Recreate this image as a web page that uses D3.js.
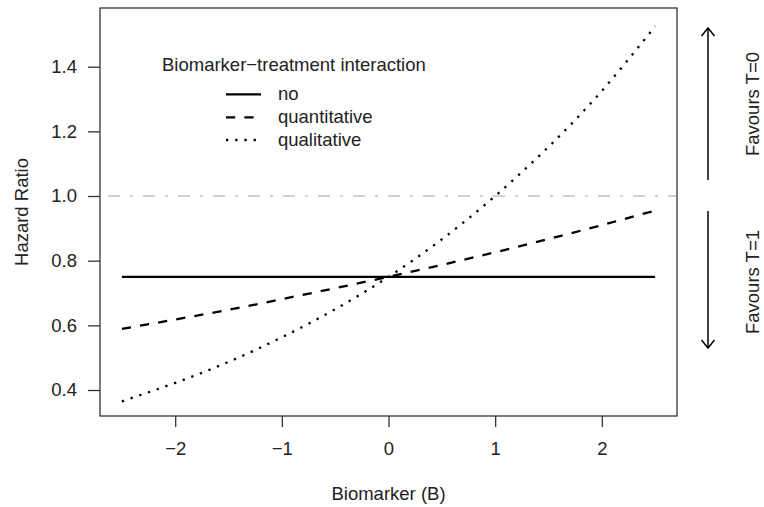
<!DOCTYPE html>
<html>
<head>
<meta charset="utf-8">
<script src="https://cdn.jsdelivr.net/npm/d3@7"></script>
<style>
  body { margin: 0; background: #fff; }
  svg text { font-family: "Liberation Sans", Arial, sans-serif; fill: #222; }
</style>
</head>
<body>
<svg id="chart" width="764" height="507"></svg>
<script>
// biomarker values and hazard ratios
const biomarker = [-2.5, -2, -1.5, -1, -0.5, 0, 0.5, 1, 1.5, 2, 2.5];
const hrNo = [0.75, 0.75, 0.75, 0.75, 0.75, 0.75, 0.75, 0.75, 0.75, 0.75, 0.75];
const hrQuantitative = [0.589, 0.618, 0.648, 0.681, 0.715, 0.75, 0.787, 0.826, 0.867, 0.910, 0.955];
const hrQualitative = [0.365, 0.422, 0.487, 0.563, 0.65, 0.75, 0.866, 1.0, 1.152, 1.325, 1.525];

const xTicks = [-2, -1, 0, 1, 2];
const yTicks = [0.4, 0.6, 0.8, 1.0, 1.2, 1.4];
const legendLabels = ["no", "quantitative", "qualitative"];
const refLine = 1.0;

const svg = d3.select("#chart");
const fs = 18.5;

// plot region
const pLeft = 100, pRight = 677, pTop = 8, pBottom = 416;

const x = d3.scaleLinear().domain([-2.705, 2.705]).range([pLeft, pRight]);
const y = d3.scaleLinear().domain([0.3196, 1.5815]).range([pBottom, pTop]);

// reference line at HR = 1
svg.append("line")
  .attr("x1", pLeft).attr("x2", pRight)
  .attr("y1", y(refLine)).attr("y2", y(refLine))
  .attr("stroke", "#d0d0d0")
  .attr("stroke-width", 2)
  .attr("stroke-dasharray", "12,10,3,10")
  .attr("stroke-dashoffset", 27);

// the three curves
const styles = [
  { vals: hrNo, dash: null },
  { vals: hrQuantitative, dash: "9.2,9.2" },
  { vals: hrQualitative, dash: "2.3,6.9" }
];

const line = d3.line()
  .x(d => x(d[0]))
  .y(d => y(d[1]))
  .curve(d3.curveNatural);

styles.forEach(s => {
  svg.append("path")
    .datum(biomarker.map((b, i) => [b, s.vals[i]]))
    .attr("d", line)
    .attr("fill", "none")
    .attr("stroke", "#000")
    .attr("stroke-width", 2.3)
    .attr("stroke-dasharray", s.dash);
});

// box
svg.append("rect")
  .attr("x", pLeft).attr("y", pTop)
  .attr("width", pRight - pLeft).attr("height", pBottom - pTop)
  .attr("fill", "none")
  .attr("stroke", "#333")
  .attr("stroke-width", 1.3);

// axes
const xAxis = d3.axisBottom(x)
  .tickValues(xTicks)
  .tickSize(11)
  .tickPadding(15)
  .tickFormat(d => d < 0 ? "\u2212" + Math.abs(d) : d);

const gx = svg.append("g")
  .attr("transform", `translate(0,${pBottom})`)
  .call(xAxis);

const yAxis = d3.axisLeft(y)
  .tickValues(yTicks)
  .tickSize(12)
  .tickPadding(11)
  .tickFormat(d3.format(".1f"));

const gy = svg.append("g")
  .attr("transform", `translate(${pLeft},0)`)
  .call(yAxis);

[gx, gy].forEach(g => {
  g.select(".domain").remove();
  g.selectAll(".tick line").attr("stroke", "#333").attr("stroke-width", 1.3);
  g.selectAll(".tick text")
    .attr("font-size", fs)
    .attr("font-family", "Liberation Sans, Arial, sans-serif")
    .attr("fill", "#222");
});

// axis titles
svg.append("text")
  .attr("x", (pLeft + pRight) / 2).attr("y", 500)
  .attr("text-anchor", "middle")
  .attr("font-size", fs)
  .text("Biomarker (B)");

svg.append("text")
  .attr("transform", `translate(27.5,${(pTop + pBottom) / 2}) rotate(-90)`)
  .attr("text-anchor", "middle")
  .attr("font-size", fs)
  .text("Hazard Ratio");

// legend
svg.append("text")
  .attr("x", 162).attr("y", 71)
  .attr("font-size", fs)
  .text("Biomarker\u2212treatment interaction");

const legY = [94.3, 117.3, 140];
legendLabels.forEach((lab, i) => {
  svg.append("line")
    .attr("x1", 226).attr("x2", 261)
    .attr("y1", legY[i]).attr("y2", legY[i])
    .attr("stroke", "#000")
    .attr("stroke-width", 2.3)
    .attr("stroke-dasharray", styles[i].dash);
  svg.append("text")
    .attr("x", 278).attr("y", legY[i] + 6)
    .attr("font-size", fs)
    .text(lab);
});

// arrows on the right
const arrowX = 708;
function arrow(y1, y2) {
  svg.append("line")
    .attr("x1", arrowX).attr("x2", arrowX)
    .attr("y1", y1).attr("y2", y2)
    .attr("stroke", "#000").attr("stroke-width", 1.5);
  const dir = y2 < y1 ? 1 : -1;
  svg.append("path")
    .attr("d", `M${arrowX - 6.5},${y2 + dir * 8}L${arrowX},${y2}L${arrowX + 6.5},${y2 + dir * 8}`)
    .attr("fill", "none")
    .attr("stroke", "#000").attr("stroke-width", 1.5);
}
arrow(180, 28);
arrow(211, 348);

svg.append("text")
  .attr("transform", "translate(759,104) rotate(-90)")
  .attr("text-anchor", "middle")
  .attr("font-size", fs)
  .text("Favours T=0");

svg.append("text")
  .attr("transform", "translate(759,282) rotate(-90)")
  .attr("text-anchor", "middle")
  .attr("font-size", fs)
  .text("Favours T=1");
</script>
</body>
</html>
